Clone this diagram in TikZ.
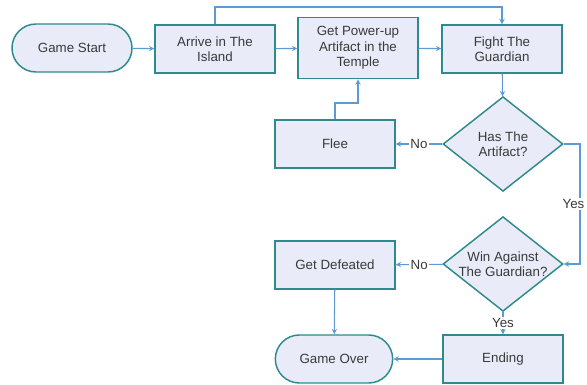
\documentclass[tikz,border=0pt]{standalone}
\usepackage{fontspec}
\setmainfont{Liberation Sans}
\usepackage{tikz}
\usetikzlibrary{shapes.geometric}
\definecolor{boxline}{HTML}{2E8A8C}
\definecolor{boxfill}{HTML}{E9ECF8}
\definecolor{flowline}{HTML}{5B9BD5}
\definecolor{flowtip}{HTML}{3C6EBE}
\definecolor{boxtext}{HTML}{3A3A3A}
\tikzset{
	every stepbox/.style={
		rectangle,
		draw=boxline,
		fill=boxfill,
		line width=1.1pt,
		text=boxtext,
		align=center,
		font=\fontsize{10}{11.6}\selectfont,
		minimum width=90pt,
		minimum height=36pt
	},
	stepbox/.style={every stepbox},
	terminal/.style={
		every stepbox,
		rounded corners=18pt
	},
	question/.style={
		every stepbox,
		diamond,
		inner sep=-12pt,
		minimum width=90pt,
		minimum height=71pt
	},
	flow/.style={
		->,
		>=stealth,
		draw=flowline,
		line width=0.8pt
	},
	answer/.style={
		fill=white,
		inner sep=1pt,
		text=boxtext,
		font=\fontsize{10}{12}\selectfont
	},
}

\begin{document}
\begin{tikzpicture}[x=0.75pt,y=-0.75pt]
\useasboundingbox (0,0) rectangle (587,385);

\node[terminal] (gamestart) at (72,48) {Game Start};
	\node[stepbox] (arrive) at (215,49) {Arrive in The\\Island};
		\node[stepbox,minimum height=46pt] (powerup) at (358,48) {Get Power-up\\Artifact in the\\Temple};
			\node[stepbox] (fight) at (502,49) {Fight The\\Guardian};
				\node[question] (hasartifact) at (503,144) {Has The\\Artifact?};
		\node[stepbox] (flee) at (335,144) {Flee};
				\node[question] (winagainst) at (503,264) {Win Against\\The Guardian?};
		\node[stepbox] (defeated) at (335,265) {Get Defeated};
		\node[terminal,minimum width=88pt] (gameover) at (334,359) {Game Over};
				\node[stepbox] (ending) at (503,359) {Ending};

\coordinate (topturn) at (360,7);
\coordinate (fleeturn) at (346,103);
\coordinate (yesturn) at (580,204);

\draw[flow] (gamestart) -- (arrive);
\draw[flow] (arrive) -- (powerup);
\draw[flow] (powerup) -- (fight);
\draw[flow] (arrive.north) |- (topturn) -| (fight.north);
\draw[flow] (fight) -- (hasartifact);
\draw[flow] (hasartifact) -- node[answer] {No} (flee);
\draw[flow] (flee.north) |- (fleeturn) -| (powerup.south);
\draw[flow] (hasartifact.east) -| (yesturn) |- (winagainst.east);
\node[answer,anchor=east] (yeslabel) at (586,204) {Yes};
\draw[flow] (winagainst) -- node[answer] {No} (defeated);
\draw[flow] (winagainst) -- node[answer] {Yes} (ending);
\draw[flow] (defeated) -- (gameover);
\draw[flow] (ending) -- (gameover);

\end{tikzpicture}
\end{document}
